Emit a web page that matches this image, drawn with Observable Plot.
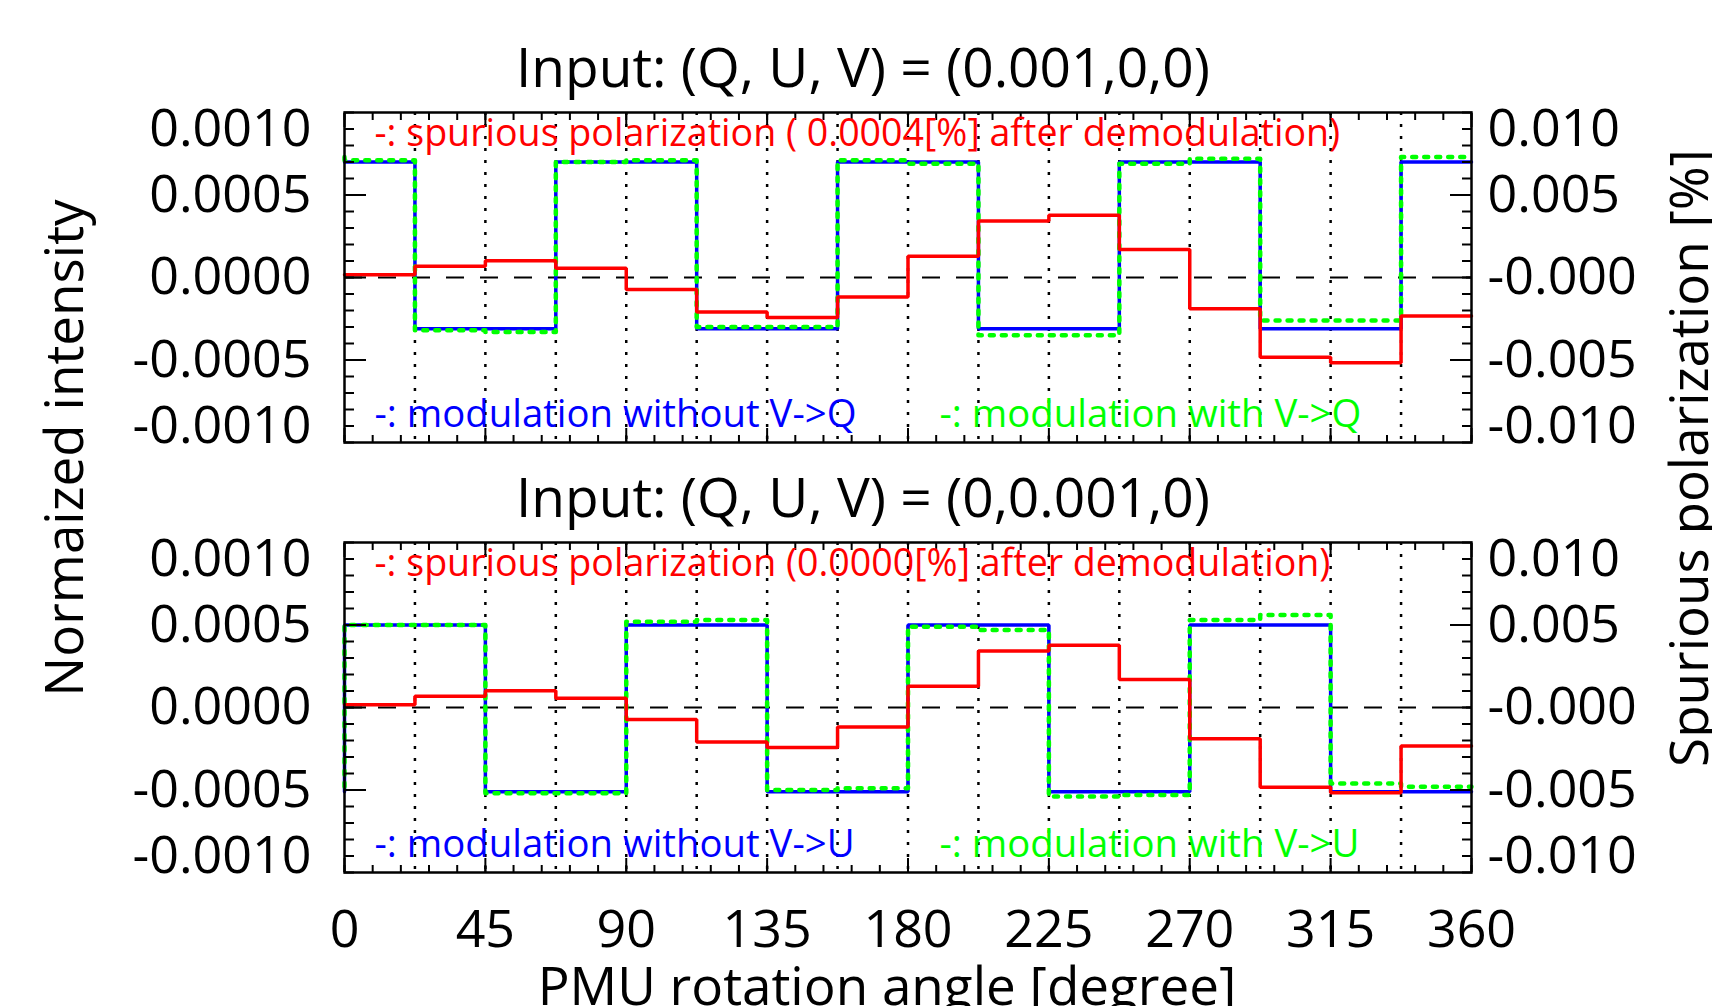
<!DOCTYPE html>
<html>
<head>
<meta charset="utf-8">
<script src="https://cdn.jsdelivr.net/npm/d3@7"></script>
<script src="https://cdn.jsdelivr.net/npm/@observablehq/plot@0.6"></script>
<style>
  html, body { margin: 0; padding: 0; background: #fff; }
  #chart { position: relative; width: 1712px; height: 1006px; overflow: hidden; background: #fff; font-family: "Open Sans", sans-serif; }
  #chart svg { position: absolute; left: 0; }
  .ylab { position: absolute; transform: translate(-50%, -50%) rotate(-90deg); white-space: nowrap; font-size: 53px; color: #000; z-index: 5; line-height: 1; }
</style>
</head>
<body>
<div id="chart"></div>
<script>
// ---------------- data ----------------
const segmentStarts = [0, 22.5, 45, 67.5, 90, 112.5, 135, 157.5, 180, 202.5, 225, 247.5, 270, 292.5, 315, 337.5];
const angleMax = 360;
const gridAngles = [22.5, 45, 67.5, 90, 112.5, 135, 157.5, 180, 202.5, 225, 247.5, 270, 292.5, 315, 337.5];

const xTickValues = [0, 45, 90, 135, 180, 225, 270, 315, 360];
const xTickLabels = ["0", "45", "90", "135", "180", "225", "270", "315", "360"];
const yTickValues = [0.0010, 0.0005, 0.0000, -0.0005, -0.0010];
const yTickLabelsLeft = ["0.0010", "0.0005", "0.0000", "-0.0005", "-0.0010"];
const yTickLabelsRight = ["0.010", "0.005", "-0.000", "-0.005", "-0.010"];

// Panel 1: input (Q,U,V) = (0.001,0,0)
const qBlue  = [0.00070, -0.00031, -0.00031, 0.00070, 0.00070, -0.00031, -0.00031, 0.00070,
                0.00070, -0.00031, -0.00031, 0.00070, 0.00070, -0.00031, -0.00031, 0.00070];
const qGreen = [0.00071, -0.00032, -0.00033, 0.00070, 0.00071, -0.00030, -0.00030, 0.00071,
                0.00069, -0.00035, -0.00035, 0.00069, 0.00072, -0.00026, -0.00026, 0.00073];
const qRed   = [0.00016, 0.00068, 0.00102, 0.00056, -0.00072, -0.00209, -0.00243, -0.00118,
                0.00129, 0.00343, 0.00378, 0.00169, -0.00189, -0.00484, -0.00516, -0.00233]; // [%]

// Panel 2: input (Q,U,V) = (0,0.001,0)
const uBlue  = [0.00050, 0.00050, -0.00051, -0.00051, 0.00050, 0.00050, -0.00051, -0.00051,
                0.00050, 0.00050, -0.00051, -0.00051, 0.00050, 0.00050, -0.00051, -0.00051];
const uGreen = [0.00050, 0.00050, -0.00052, -0.00052, 0.00052, 0.00053, -0.00050, -0.00049,
                0.00049, 0.00047, -0.00054, -0.00053, 0.00053, 0.00056, -0.00046, -0.00048];
const uRed   = [0.00016, 0.00068, 0.00102, 0.00056, -0.00072, -0.00209, -0.00243, -0.00118,
                0.00129, 0.00343, 0.00378, 0.00169, -0.00189, -0.00484, -0.00516, -0.00233]; // [%]

const panelTitles = ["Input: (Q, U, V) = (0.001,0,0)", "Input: (Q, U, V) = (0,0.001,0)"];
const redNotes   = ["-: spurious polarization ( 0.0004[%] after demodulation)", "-: spurious polarization (0.0000[%] after demodulation)"];
const blueNotes  = ["-: modulation without V->Q", "-: modulation without V->U"];
const greenNotes = ["-: modulation with V->Q", "-: modulation with V->U"];
const xLabel = "PMU rotation angle [degree]";
const yLabelLeft = "Normaized intensity";
const yLabelRight = "Spurious polarization [%]";

// ---------------- helpers ----------------
const RED = "#ff0000", BLUE = "#0000ff", GREEN = "#00ff00";
const leftLabel = new Map(yTickValues.map((v, i) => [v, yTickLabelsLeft[i]]));
const rightLabel = new Map(yTickValues.map((v, i) => [v, yTickLabelsRight[i]]));
const xLabelMap = new Map(xTickValues.map((v, i) => [v, xTickLabels[i]]));
const yMinor = d3.range(-10, 11).map(k => k / 10000);
const yMajorInner = [0.0005, 0, -0.0005];
const xMinor = d3.range(0, 41).map(k => k * 9);

function stepData(vals, wrap) {
  const pts = [];
  if (wrap) pts.push({x: 0, y: vals[vals.length - 1]});
  vals.forEach((v, i) => pts.push({x: segmentStarts[i], y: v}));
  pts.push({x: angleMax, y: vals[vals.length - 1]});
  return pts;
}

function panelMarks(p, blue, green, red, isBottom) {
  const marks = [
    Plot.ruleX(gridAngles, {stroke: "black", strokeWidth: 2.5, strokeDasharray: "3,9"}),
    Plot.ruleY([0], {stroke: "black", strokeWidth: 2, strokeDasharray: "18,16"}),
    Plot.line(stepData(blue, true), {x: "x", y: "y", curve: "step-after", stroke: BLUE, strokeWidth: 3.5, strokeLinejoin: "miter"}),
    Plot.line(stepData(green, true), {x: "x", y: "y", curve: "step-after", stroke: GREEN, strokeWidth: 4.5, strokeDasharray: "4,8"}),
    Plot.line(stepData(red, false), {x: "x", y: d => d.y / 10, curve: "step-after", stroke: RED, strokeWidth: 3.5, strokeLinejoin: "miter"}),
    Plot.frame({stroke: "black", strokeWidth: 2.5}),
    // inward ticks
    Plot.axisY({anchor: "left", ticks: yMinor, tickSize: 10, insetLeft: 10, fill: "none", stroke: "black", strokeWidth: 2, label: null}),
    Plot.axisY({anchor: "right", ticks: yMinor, tickSize: 10, insetRight: 10, fill: "none", stroke: "black", strokeWidth: 2, label: null}),
    Plot.axisY({anchor: "left", ticks: yMajorInner, tickSize: 22, insetLeft: 22, fill: "none", stroke: "black", strokeWidth: 2, label: null}),
    Plot.axisY({anchor: "right", ticks: yMajorInner, tickSize: 22, insetRight: 22, fill: "none", stroke: "black", strokeWidth: 2, label: null}),
    Plot.axisX({anchor: "bottom", ticks: xMinor, tickSize: 7, insetBottom: 7, fill: "none", stroke: "black", strokeWidth: 2, label: null}),
    Plot.axisX({anchor: "top", ticks: xMinor, tickSize: 7, insetTop: 7, fill: "none", stroke: "black", strokeWidth: 2, label: null}),
    Plot.axisX({anchor: "bottom", ticks: xTickValues, tickSize: 14, insetBottom: 14, fill: "none", stroke: "black", strokeWidth: 2, label: null}),
    Plot.axisX({anchor: "top", ticks: xTickValues, tickSize: 14, insetTop: 14, fill: "none", stroke: "black", strokeWidth: 2, label: null}),
    // left tick labels
    Plot.axisY({anchor: "left", ticks: yMajorInner, tickSize: 0, tickPadding: 33, tickFormat: d => leftLabel.get(d), fontSize: 52, fill: "black", label: null}),
    Plot.axisY({anchor: "left", ticks: [0.0010], tickSize: 0, tickPadding: 33, dy: 17, tickFormat: d => leftLabel.get(d), fontSize: 52, fill: "black", label: null}),
    Plot.axisY({anchor: "left", ticks: [-0.0010], tickSize: 0, tickPadding: 33, dy: -16, tickFormat: d => leftLabel.get(d), fontSize: 52, fill: "black", label: null}),
    // right tick labels
    Plot.axisY({anchor: "right", ticks: yMajorInner, tickSize: 0, tickPadding: 16, tickFormat: d => rightLabel.get(d), fontSize: 52, fill: "black", label: null}),
    Plot.axisY({anchor: "right", ticks: [0.0010], tickSize: 0, tickPadding: 16, dy: 17, tickFormat: d => rightLabel.get(d), fontSize: 52, fill: "black", label: null}),
    Plot.axisY({anchor: "right", ticks: [-0.0010], tickSize: 0, tickPadding: 16, dy: -16, tickFormat: d => rightLabel.get(d), fontSize: 52, fill: "black", label: null}),
    // title and notes
    Plot.text([panelTitles[p]], {text: d => d, frameAnchor: "top", dx: -45, dy: -43, fontSize: 55, lineAnchor: "middle", fill: "black"}),
    Plot.text([redNotes[p]], {text: d => d, frameAnchor: "top-left", dx: 30, dy: 21, textAnchor: "start", lineAnchor: "middle", fontSize: 37.6, fill: RED}),
    Plot.text([blueNotes[p]], {text: d => d, frameAnchor: "bottom-left", dx: 30, dy: -28, textAnchor: "start", lineAnchor: "middle", fontSize: 38.3, fill: BLUE}),
    Plot.text([greenNotes[p]], {text: d => d, frameAnchor: "bottom-left", dx: 595, dy: -28, textAnchor: "start", lineAnchor: "middle", fontSize: 38.3, fill: GREEN})
  ];
  if (isBottom) {
    marks.push(Plot.axisX({anchor: "bottom", ticks: xTickValues, tickSize: 0, tickPadding: 38, tickFormat: d => xLabelMap.get(d), fontSize: 52, fill: "black", label: null}));
    marks.push(Plot.text([xLabel], {text: d => d, frameAnchor: "bottom", dx: -21, dy: 116, fontSize: 53, lineAnchor: "middle", fill: "black"}));
  }
  return marks;
}

function makePanel(p, blue, green, red, isBottom, height, marginTop, marginBottom) {
  return Plot.plot({
    width: 1712,
    height,
    marginTop,
    marginBottom,
    marginLeft: 344,
    marginRight: 241,
    x: {domain: [0, angleMax]},
    y: {domain: [-0.0010, 0.0010]},
    style: {fontFamily: '"Open Sans", sans-serif', fontSize: "52px", color: "black", background: "transparent", overflow: "visible"},
    marks: panelMarks(p, blue, green, red, isBottom)
  });
}

const chart = document.getElementById("chart");
const top1 = makePanel(0, qBlue, qGreen, qRed, false, 480, 112, 38);
top1.style.top = "0px";
const top2 = makePanel(1, uBlue, uGreen, uRed, true, 526, 62, 134);
top2.style.top = "480px";
chart.appendChild(top1);
chart.appendChild(top2);

const yl = document.createElement("div");
yl.className = "ylab";
yl.textContent = yLabelLeft;
yl.style.left = "62px";
yl.style.top = "448px";
chart.appendChild(yl);

const yr = document.createElement("div");
yr.className = "ylab";
yr.textContent = yLabelRight;
yr.style.left = "1687px";
yr.style.top = "458px";
chart.appendChild(yr);
</script>
</body>
</html>
